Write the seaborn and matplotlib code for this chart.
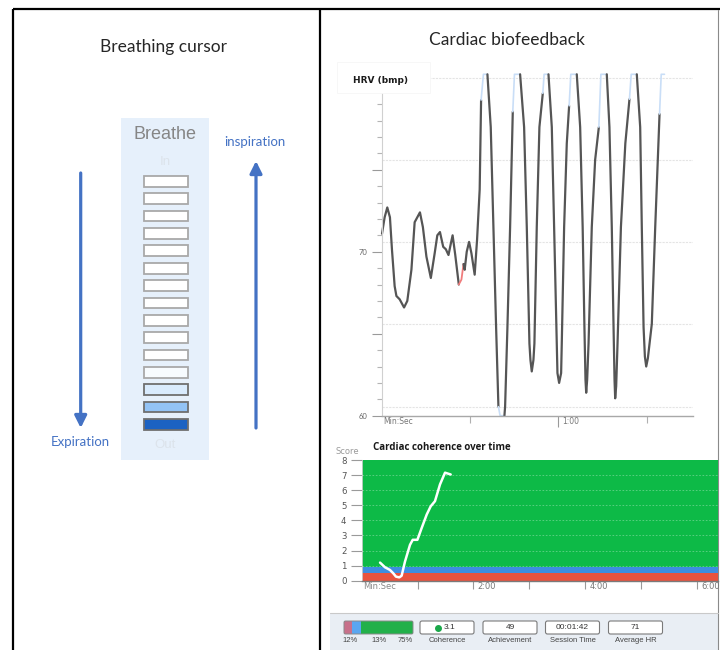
import numpy as np
import pandas as pd
import matplotlib
matplotlib.use("Agg")
import matplotlib.pyplot as plt
import seaborn as sns
from matplotlib.patches import Rectangle, FancyBboxPatch
from matplotlib.colors import LinearSegmentedColormap
from matplotlib.ticker import MultipleLocator, FixedLocator

# ---------------- data ----------------
# HRV trace (seconds, bpm); state: k = normal, c = clipped (light blue), r = flagged (red)
hrv_time = [0.1, 1.0, 1.9, 2.8, 3.5, 4.4, 5.0, 6.1, 7.6, 8.7, 10.1, 11.2, 12.1, 13.0, 14.0,
            15.2, 16.7, 18.0, 18.9, 19.8, 20.9, 21.8, 22.7, 23.5, 24.1, 25.0, 26.2, 27.1,
            27.8, 28.2, 28.9, 29.7, 30.5, 31.6, 32.4, 33.3, 33.78, 34.57, 35.93, 37.06,
            37.97, 38.88, 39.67, 40.24, 41.37, 41.71, 41.94, 42.73, 43.64, 44.55, 45.12,
            47.04, 48.40, 49.31, 50.21, 50.55, 51.0, 51.57, 51.9, 52.7, 53.6, 54.75, 55.2,
            56.68, 57.81, 58.6, 59.5, 59.73, 60.3, 60.98, 61.2, 62.0, 62.9, 63.7, 64.27,
            66.3, 67.45, 68.3, 68.9, 69.26, 69.5, 69.83, 70.3, 71.4, 72.54, 73.8, 74.5,
            76.5, 77.4, 78.2, 78.8, 79.13, 79.35, 79.69, 80.15, 81.3, 82.8, 84.2, 84.8,
            86.7, 87.85, 88.4, 89.0, 89.45, 89.9, 90.46, 91.8, 92.96, 94.43, 95.0, 96.1]
hrv_bpm = [71.1, 72.1, 72.7, 72.1, 70.1, 67.9, 67.3, 67.1, 66.6, 67.0, 68.9, 71.8, 72.1, 72.4, 71.5,
           69.7, 68.4, 69.9, 71.0, 71.2, 70.3, 70.15, 69.8, 70.5, 71.0, 69.8, 68.0, 68.3,
           69.25, 68.9, 70.0, 70.6, 69.9, 68.6, 70.7, 73.8, 79.25, 80.82, 80.82, 77.6,
           71.5, 65.4, 60.55, 60.0, 60.0, 60.0, 60.55, 65.4, 71.5, 78.54, 80.82,
           80.82, 77.6, 71.5, 64.4, 63.4, 62.7, 63.4, 64.4, 71.5, 77.6, 79.66, 80.82,
           80.82, 77.6, 71.5, 64.4, 62.6, 62.0, 62.6, 64.4, 71.5, 76.6, 78.9, 80.82,
           80.82, 77.6, 71.5, 65.4, 62.2, 61.4, 62.2, 64.4, 71.5, 75.6, 77.6, 80.82,
           80.82, 77.6, 71.5, 65.4, 62.2, 61.06, 61.8, 64.4, 71.5, 76.6, 79.3, 80.82,
           80.82, 77.6, 71.5, 65.4, 63.6, 63.0, 63.5, 65.6, 71.5, 78.4, 80.82, 80.82]
hrv_state = ["k", "k", "k", "k", "k", "k", "k", "k", "k", "k", "k", "k", "k", "k", "k",
             "k", "k", "k", "k", "k", "k", "k", "k", "k", "k", "k", "k", "r",
             "r", "k", "k", "k", "k", "k", "k", "k", "k", "c", "c", "k",
             "k", "k", "k", "c", "c", "c", "k", "k", "k", "k", "c",
             "c", "k", "k", "k", "k", "k", "k", "k", "k", "k", "k", "c",
             "c", "k", "k", "k", "k", "k", "k", "k", "k", "k", "k", "c",
             "c", "k", "k", "k", "k", "k", "k", "k", "k", "k", "k", "c",
             "c", "k", "k", "k", "k", "k", "k", "k", "k", "k", "k", "c",
             "c", "k", "k", "k", "k", "k", "k", "k", "k", "k", "c", "c"]
hrv_yticks = [60, 65, 70, 75]
hrv_ytick_labels = ["60", "", "70", ""]
hrv_xticks = [60]
hrv_xtick_labels = ["1:00"]
hrv_xminor = [30, 90]
hrv_grid = [60.55, 65.57, 70.57, 75.6, 80.62]

# Cardiac coherence over time
coh_time = [19.7, 25.0, 30.4, 33.9, 36.8, 40.4, 42.9, 46.5, 51.9, 54.8, 59.8, 64.4,
            69.8, 74.1, 78.7, 84.1, 89.5, 95.6]
coh_score = [1.2, 0.89, 0.71, 0.49, 0.27, 0.22, 0.33, 1.27, 2.38, 2.71, 2.71, 3.49,
             4.38, 4.93, 5.27, 6.38, 7.16, 7.04]
coh_zone_bounds = [0, 0.5, 0.9, 8]
coh_yticks = [0, 1, 2, 3, 4, 5, 6, 7, 8]
coh_xticks = [120, 240, 360]
coh_xtick_labels = ["2:00", "4:00", "6:00"]
coh_xminor = [60, 180, 300]

# Breathing cursor fill level per box, bottom to top
breath_levels = [1.0, 0.6, 0.3, 0.07, 0, 0, 0, 0, 0, 0, 0, 0, 0, 0, 0]

# Status bar
zone_pct = [12, 13, 75]
zone_pct_labels = ["12%", "13%", "75%"]
stat_values = ["3.1", "49", "00:01:42", "71"]
stat_labels = ["Coherence", "Achievement", "Session Time", "Average HR"]

# ---------------- figure ----------------
sns.set_theme(style="white")
plt.rcParams["font.family"] = ["Lato", "DejaVu Sans"]

W, H = 720, 650
fig = plt.figure(figsize=(W / 100, H / 100), dpi=100)
fig.patch.set_facecolor("white")


def rect(x0, y0, x1, y1):
    return [x0 / W, 1 - y1 / H, (x1 - x0) / W, (y1 - y0) / H]


bg = fig.add_axes([0, 0, 1, 1], zorder=0)
bg.set_xlim(0, W)
bg.set_ylim(H, 0)
bg.axis("off")

# frame lines
bg.plot([12.5, 720], [8.5, 8.5], color="black", lw=1.6, solid_capstyle="butt")
bg.plot([12.5, 12.5], [8.5, 650], color="black", lw=1.6, solid_capstyle="butt")
bg.plot([319.5, 319.5], [8.5, 650], color="black", lw=1.6, solid_capstyle="butt")
bg.plot([718.3, 718.3], [9.5, 650], color="#8a8a8a", lw=0.8)

# titles
bg.text(164, 47, "Breathing cursor", ha="center", va="center", fontsize=12.5, color="#262626")
bg.text(507, 40, "Cardiac biofeedback", ha="center", va="center", fontsize=12.5, color="#262626")

# arrows
acol = "#4472C4"
bg.annotate("", xy=(80.7, 428), xytext=(80.7, 173),
            arrowprops=dict(arrowstyle="-|>,head_width=0.3,head_length=0.6", color=acol,
                            lw=2.3, shrinkA=0, shrinkB=0))
bg.annotate("", xy=(256, 161), xytext=(256, 428),
            arrowprops=dict(arrowstyle="-|>,head_width=0.3,head_length=0.6", color=acol,
                            lw=2.3, shrinkA=0, shrinkB=0))
bg.text(80.5, 441.5, "Expiration", ha="center", va="center", fontsize=9.5, color=acol)
bg.text(254.7, 142.5, "inspiration", ha="center", va="center", fontsize=9.5, color=acol)

# ---------- breathing cursor ----------
axc = fig.add_axes(rect(121, 118, 209.3, 460), zorder=1)
axc.set_facecolor("#e6f0fb")
axc.set_xlim(0, 1)
axc.set_ylim(-2.05, 17.65)
for sp in axc.spines.values():
    sp.set_visible(False)
axc.set_xticks([])
axc.set_yticks([])
cmap = LinearSegmentedColormap.from_list("breath", ["#ffffff", "#e1effd", "#b9dbfb", "#5aa0ec", "#1c62c2"])
box_colors = [cmap(l) for l in breath_levels]
box_edges = ["#6f6f6f" if l > 0.2 else "#a9a9a9" for l in breath_levels]
axc.barh(np.arange(len(breath_levels)), 0.495, left=0.26, height=0.62,
         color=box_colors, edgecolor=box_edges, linewidth=1.3)
axc.text(0.5, 16.68, "Breathe", ha="center", va="center", fontsize=13,
         color="#868686", family=["Liberation Sans", "DejaVu Sans"])
axc.text(0.5, 15.14, "In", ha="center", va="center", fontsize=9.5, color="#dce3eb",
         family=["Liberation Sans", "DejaVu Sans"])
axc.text(0.5, -1.18, "Out", ha="center", va="center", fontsize=9.5, color="#dce3eb",
         family=["Liberation Sans", "DejaVu Sans"])

# ---------- HRV chart ----------
ax1 = fig.add_axes(rect(381.7, 74.3, 693, 415.7), zorder=1)
ax1.set_facecolor("white")
for g in hrv_grid:
    ax1.axhline(g, color="#e4e4e4", lw=0.8, ls=(0, (2, 1)), zorder=0)

df = pd.DataFrame({"t": hrv_time, "v": hrv_bpm, "s": hrv_state})
state_color = {"k": "#555555", "c": "#c9def7", "r": "#f07c7c"}
state_lw = {"k": 1.6, "c": 1.2, "r": 1.3}
n = len(df)
i = 1
while i < n:
    s = hrv_state[i]
    j = i
    while j + 1 < n and hrv_state[j + 1] == s:
        j += 1
    sub = df.iloc[i - 1:j + 1]
    sns.lineplot(data=sub, x="t", y="v", ax=ax1, color=state_color[s], lw=state_lw[s],
                 sort=False, estimator=None, clip_on=False)
    i = j + 1

ax1.set_xlim(0, 105.8)
ax1.set_ylim(60, 80.82)
ax1.set_xlabel("")
ax1.set_ylabel("")
ax1.spines["top"].set_visible(False)
ax1.spines["right"].set_visible(False)
ax1.spines["left"].set_color("#d0d0d0")
ax1.spines["left"].set_linewidth(0.8)
ax1.spines["bottom"].set_color("#a8a8a8")
ax1.spines["bottom"].set_linewidth(1.0)
ax1.set_yticks(hrv_yticks)
ax1.set_yticklabels(hrv_ytick_labels)
ax1.yaxis.set_minor_locator(MultipleLocator(1))
ax1.tick_params(axis="y", which="major", left=True, length=7, width=0.8, color="#9a9a9a",
                labelsize=5.5, labelcolor="#666666", pad=3, direction="out")
ax1.tick_params(axis="y", which="minor", left=True, length=3.5, width=0.8, color="#b5b5b5",
                direction="out")
ax1.set_xticks(hrv_xticks)
ax1.set_xticklabels([])
ax1.xaxis.set_minor_locator(FixedLocator(hrv_xminor))
ax1.tick_params(axis="x", which="major", bottom=True, length=8, width=0.8, color="#9a9a9a",
                direction="out")
ax1.tick_params(axis="x", which="minor", bottom=True, length=5, width=0.8, color="#b0b0b0",
                direction="out")
for x, lab in zip(hrv_xticks, hrv_xtick_labels):
    ax1.annotate(lab, xy=(x, 60), xytext=(3, -4.5), textcoords="offset points",
                 ha="left", va="center", fontsize=5.5, color="#777777",
                 family=["DejaVu Sans"], annotation_clip=False)
ax1.annotate("Min:Sec", xy=(0, 60), xytext=(1, -4.5), textcoords="offset points",
             ha="left", va="center", fontsize=5.5, color="#777777",
             family=["DejaVu Sans"], annotation_clip=False)

# ---------- Coherence chart ----------
ax2 = fig.add_axes(rect(361.7, 460, 718, 580.7), zorder=1)
zone_colors = ["#e8533f", "#3d8ee0", "#0dba47"]
for lo, hi, c in zip(coh_zone_bounds[:-1], coh_zone_bounds[1:], zone_colors):
    ax2.axhspan(lo, hi, color=c, lw=0, zorder=0)
for y in coh_yticks[1:-1]:
    ax2.axhline(y, color="white", alpha=0.35, lw=0.6, ls=(0, (2, 2)), zorder=1)
sns.lineplot(x=coh_time, y=coh_score, ax=ax2, color="white", lw=1.8, zorder=3)
ax2.set_xlim(0, 382.7)
ax2.set_ylim(0, 8)
ax2.set_xlabel("")
ax2.set_ylabel("")
ax2.spines["top"].set_visible(False)
ax2.spines["right"].set_visible(False)
ax2.spines["left"].set_color("#d0d0d0")
ax2.spines["left"].set_linewidth(0.6)
ax2.spines["bottom"].set_color("#7a7a7a")
ax2.spines["bottom"].set_linewidth(1.0)
ax2.set_yticks(coh_yticks)
ax2.set_yticklabels([str(v) for v in coh_yticks])
ax2.tick_params(axis="y", which="major", left=True, length=8, width=0.8, color="#9a9a9a",
                labelsize=6.2, labelcolor="#555555", pad=3, direction="out")
for lab in ax2.get_yticklabels():
    lab.set_family(["DejaVu Sans"])
ax2.set_xticks(coh_xticks)
ax2.set_xticklabels([])
ax2.xaxis.set_minor_locator(FixedLocator(coh_xminor))
ax2.tick_params(axis="x", which="major", bottom=True, length=6, width=0.8, color="#9a9a9a",
                direction="out")
ax2.tick_params(axis="x", which="minor", bottom=True, length=6, width=0.8, color="#9a9a9a",
                direction="out")
for x, lab in zip(coh_xticks, coh_xtick_labels):
    ax2.annotate(lab, xy=(x, 0), xytext=(3, -4.5), textcoords="offset points",
                 ha="left", va="center", fontsize=6, color="#777777",
                 family=["DejaVu Sans"], annotation_clip=False)
ax2.annotate("Min:Sec", xy=(0, 0), xytext=(1, -4.5), textcoords="offset points",
             ha="left", va="center", fontsize=6, color="#888888",
             family=["DejaVu Sans"], annotation_clip=False)

bg.text(347, 452, "Score", ha="center", va="center", fontsize=6, color="#9a9a9a",
        family=["DejaVu Sans"])
bg.text(373, 447, "Cardiac coherence over time", ha="left", va="center", fontsize=7,
        fontweight="bold", color="#1a1a1a", family=["Open Sans", "DejaVu Sans"])

# ---------- status bar ----------
bg.add_patch(Rectangle((330, 612.5), 388, 38, facecolor="#e9eef4", edgecolor="none"))
bg.plot([330, 718], [612.5, 612.5], color="#c9c9c9", lw=0.8)
bar_x0, bar_w = 344, 69
pct = np.array(zone_pct, dtype=float)
lefts = bar_x0 + bar_w * np.concatenate([[0], np.cumsum(pct)[:-1]]) / 100
widths = bar_w * pct / 100
bg.barh([627.5] * len(pct), widths, left=lefts, height=13,
        color=["#c7708a", "#5aa6f0", "#22b04a"], edgecolor="none")
bg.add_patch(FancyBboxPatch((bar_x0, 621), bar_w, 13, boxstyle="round,pad=0,rounding_size=1.5",
                            facecolor="none", edgecolor="#8a8a8a", lw=0.7))
for xc, lab in zip([350, 379, 405], zone_pct_labels):
    bg.text(xc, 641, lab, ha="center", va="center", fontsize=5.5, color="#444444",
            family=["Liberation Sans", "DejaVu Sans"])

box_cx = [447, 510, 572.5, 635.5]
for k, (xc, val, lab) in enumerate(zip(box_cx, stat_values, stat_labels)):
    bg.add_patch(FancyBboxPatch((xc - 27, 621), 54, 13, boxstyle="round,pad=0,rounding_size=2",
                                facecolor="white", edgecolor="#7a7a7a", lw=0.8))
    if k == 0:
        bg.plot([437.5], [627.5], "o", color="#1aa84a", ms=4)
        bg.text(450, 627.5, val, ha="center", va="center", fontsize=6, color="#333333",
                family=["Liberation Sans", "DejaVu Sans"])
    else:
        bg.text(xc, 627.5, val, ha="center", va="center", fontsize=6, color="#333333",
                family=["Liberation Sans", "DejaVu Sans"])
    bg.text(xc, 641, lab, ha="center", va="center", fontsize=5.5, color="#444444",
            family=["Liberation Sans", "DejaVu Sans"])

# ---------- overlay: HRV label ----------
ov = fig.add_axes([0, 0, 1, 1], zorder=3)
ov.set_xlim(0, W)
ov.set_ylim(H, 0)
ov.axis("off")
ov.add_patch(Rectangle((337, 62), 93, 31, facecolor="white", edgecolor="#f6f6f6", lw=0.6))
ov.text(352.7, 80.7, "HRV (bmp)", ha="left", va="center", fontsize=6.5, fontweight="bold",
        color="#1a1a1a", family=["DejaVu Sans"])

fig.savefig("out.png", dpi=100, facecolor="white")
